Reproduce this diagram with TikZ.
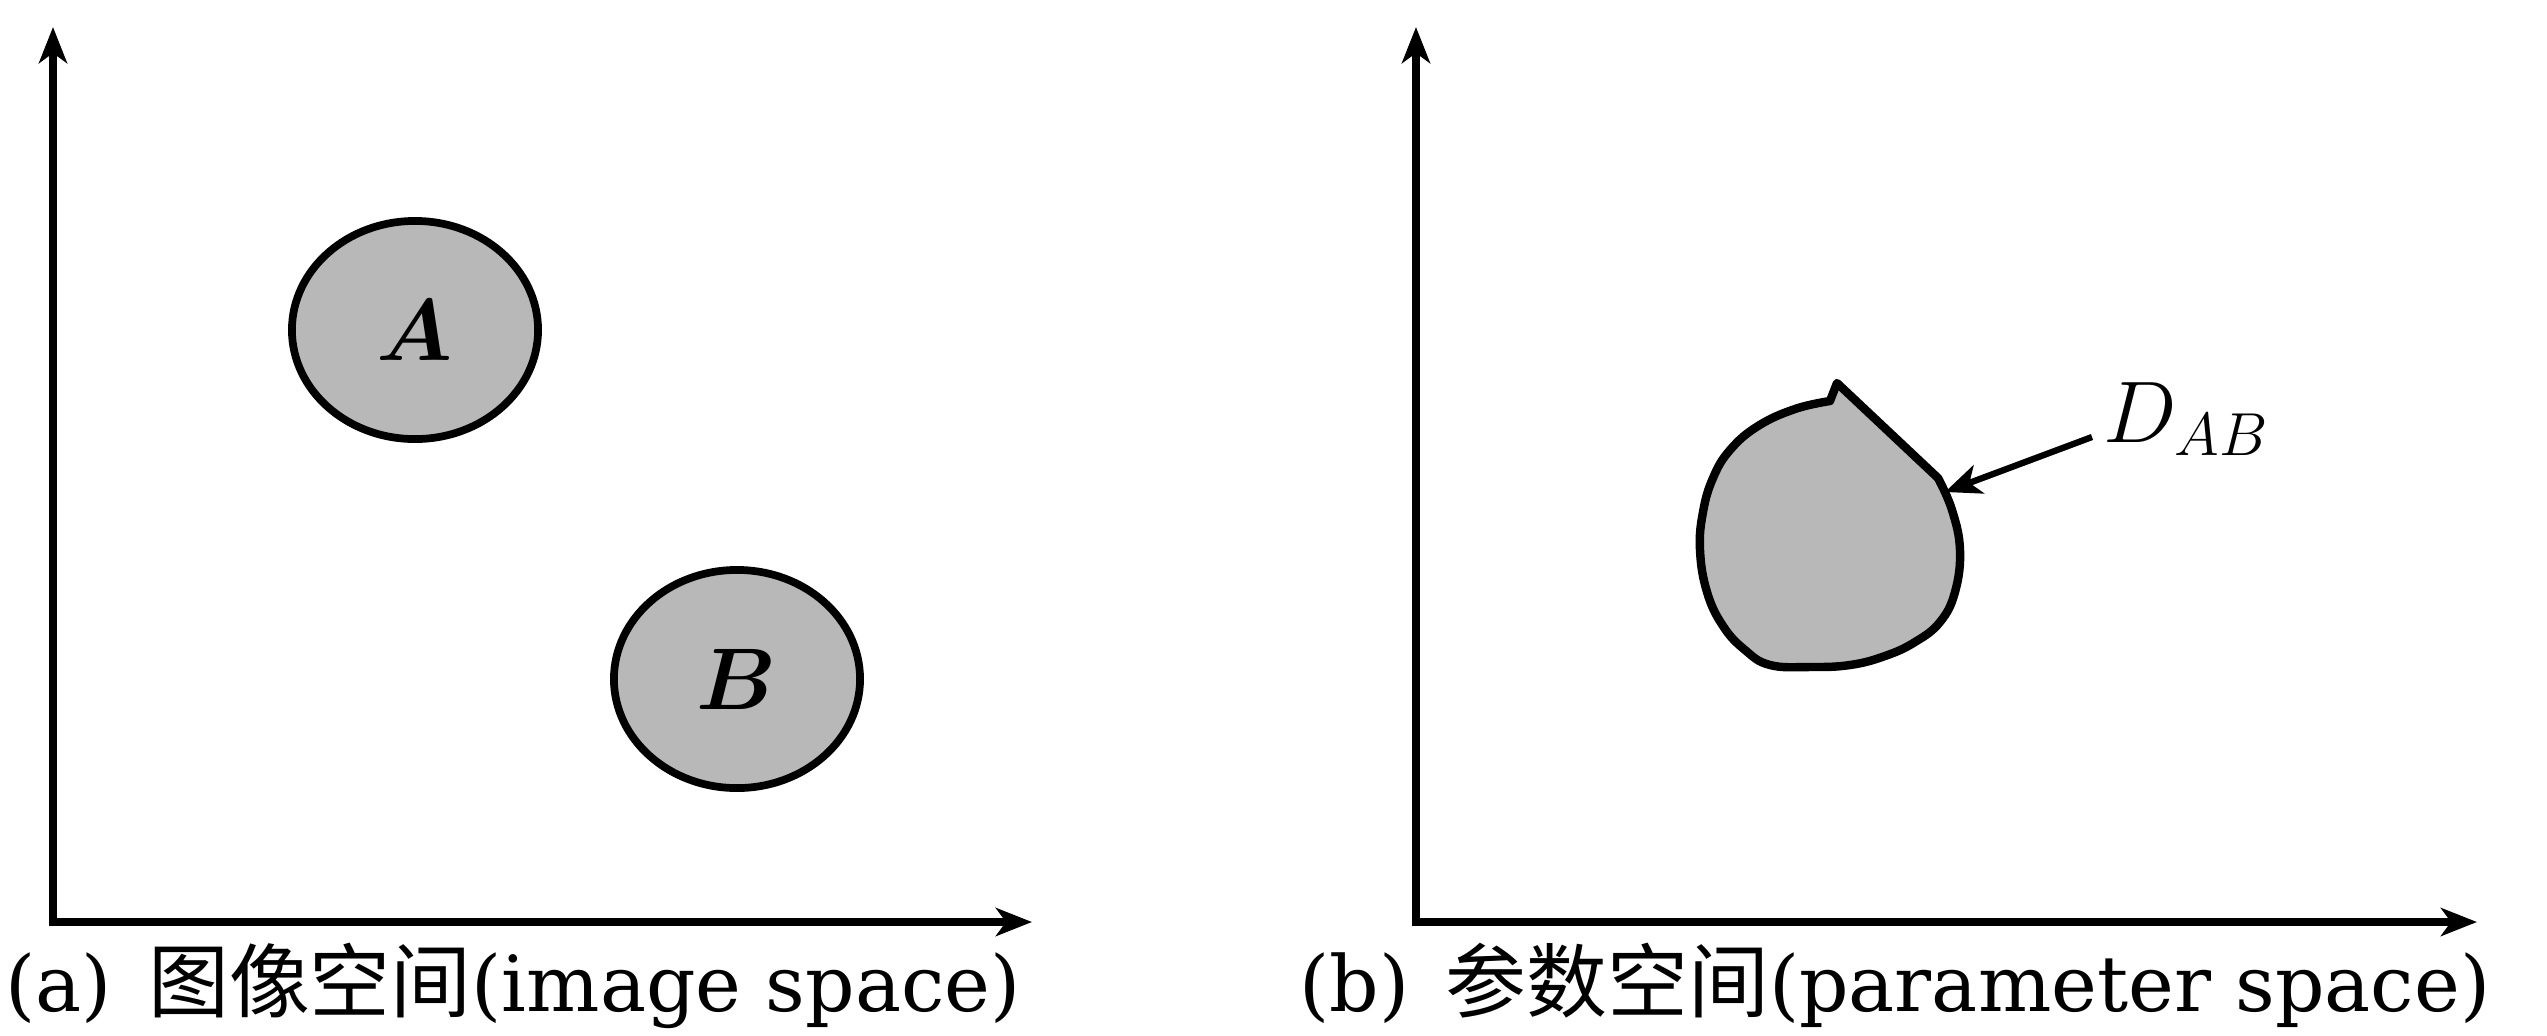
\documentclass[tikz,border=0pt]{standalone}
\usepackage{fontspec}
\usepackage{tikz}
\usetikzlibrary{arrows.meta,shapes.geometric}
\newfontfamily\cjk{Noto Sans CJK SC}
\newfontfamily\capfont{DejaVu Serif}
\definecolor{dotgray}{gray}{0.72}
\newcommand{\spAxes}[2]{%
    \draw[axis] (#1,27) -- (#1,922) -- (#2,922);
}

\begin{document}
\begin{tikzpicture}[x=0.01cm, y=-0.01cm,
    axis/.style={line width=2.2pt, line join=miter,
        {Stealth[length=3.6mm, width=2.8mm, inset=1mm]}-{Stealth[length=3.6mm, width=2.8mm, inset=1mm]}},
    region/.style={ellipse, draw, line width=2.2pt, fill=dotgray, inner sep=0pt,
        minimum width=2.46cm, minimum height=2.18cm, font=\fontsize{24}{28}\selectfont\boldmath},
    pointer/.style={line width=1.8pt, -{Stealth[length=3.6mm, width=3mm, inset=1mm]}},
    caption/.style={anchor=base west, inner sep=0pt, font=\fontsize{22}{26}\selectfont}]
    \useasboundingbox (0,0) rectangle (2547,1035);
    % (a) image space
    \spAxes{53}{1032}
    \node[region] (regA) at (415,330) {$A$};
    \node[region] (regB) at (737,679) {$B$};
    \node[caption] (capA) at (5,1011) {\capfont(a)\hspace{0.36cm}{\fontsize{23}{26}\selectfont\cjk 图像空间}\capfont(image space)};
    % (b) parameter space
    \spAxes{1416}{2477}
    \draw[line width=2.4pt, fill=dotgray, line join=round] (1837,383)
        -- plot[smooth, tension=0.7] coordinates {(1938,478) (1952,510) (1960,550) (1955,592)
        (1940,622) (1915,642) (1885,656) (1850,665) (1810,667) (1770,665) (1745,650)
        (1723,626) (1707,592) (1700,550) (1703,512) (1713,478) (1730,450) (1758,426)
        (1795,409) (1830,401)} -- cycle;
    \coordinate (hit) at (1945,492);
    \node[anchor=base west, inner sep=0pt, font=\fontsize{24}{28}\selectfont] (dab) at (2103,442) {$D_{AB}$};
    \draw[pointer] ([shift={(-11,-5)}]dab.base west) -- (hit);
    \node[caption] (capB) at (1299,1011) {\capfont(b)\hspace{0.36cm}{\fontsize{23}{26}\selectfont\cjk 参数空间}\capfont(parameter space)};
\end{tikzpicture}
\end{document}
